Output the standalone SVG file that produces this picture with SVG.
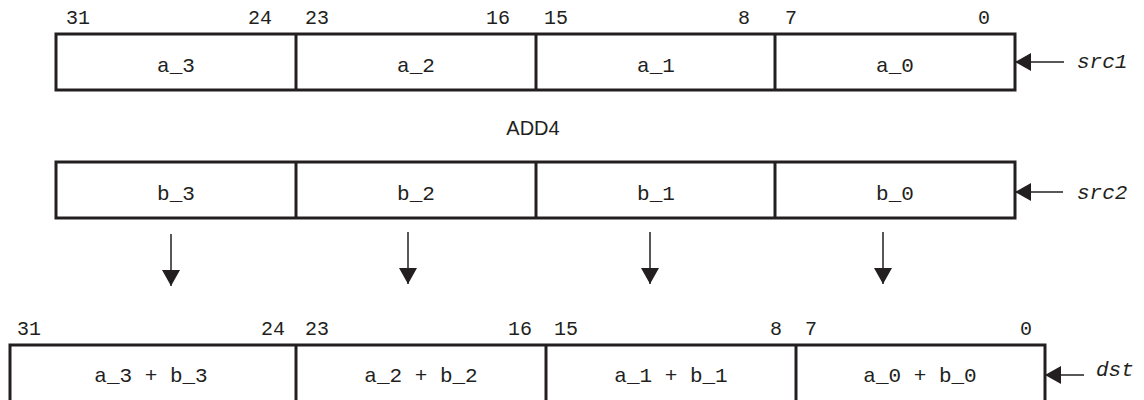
<svg xmlns="http://www.w3.org/2000/svg" width="1144" height="400" viewBox="0 0 1144 400">
<style>
.box{fill:#fff;stroke:#231f20;stroke-width:3}
.div{stroke:#231f20;stroke-width:3}
.bit{font-family:"Liberation Mono",monospace;font-size:20px;fill:#231f20}
.lbl{font-family:"Liberation Mono",monospace;font-size:21px;fill:#231f20;text-anchor:middle}
.reg{font-family:"Liberation Mono",monospace;font-size:21px;font-style:italic;fill:#231f20}
.op{font-family:"Liberation Sans",Arial,sans-serif;font-size:20px;fill:#231f20;text-anchor:middle}
.conn{stroke:#231f20;stroke-width:1.5;fill:none;marker-end:url(#ah)}
.end{text-anchor:end}
</style>
<defs>
<marker id="ah" markerUnits="userSpaceOnUse" markerWidth="16" markerHeight="18" refX="16" refY="9" orient="auto">
<path d="M0,0 L16,9 L0,18 z" fill="#231f20"/>
</marker>
</defs>

<g id="src1">
<rect class="box" x="56" y="34" width="959" height="56"/>
<line class="div" x1="296" y1="34" x2="296" y2="90"/>
<line class="div" x1="536" y1="34" x2="536" y2="90"/>
<line class="div" x1="775" y1="34" x2="775" y2="90"/>
<text class="bit" x="66" y="24">31</text>
<text class="bit end" x="272" y="24">24</text>
<text class="bit" x="305" y="24">23</text>
<text class="bit end" x="510" y="24">16</text>
<text class="bit" x="544" y="24">15</text>
<text class="bit end" x="750" y="24">8</text>
<text class="bit" x="785" y="24">7</text>
<text class="bit end" x="990" y="24">0</text>
<text class="lbl" x="176" y="72">a_3</text>
<text class="lbl" x="416" y="72">a_2</text>
<text class="lbl" x="656" y="72">a_1</text>
<text class="lbl" x="895" y="72">a_0</text>
<text class="reg" x="1077" y="68">src1</text>
</g>

<g id="op">
<text class="op" x="533" y="135">ADD4</text>
</g>

<g id="src2">
<rect class="box" x="56" y="162" width="959" height="56"/>
<line class="div" x1="296" y1="162" x2="296" y2="218"/>
<line class="div" x1="536" y1="162" x2="536" y2="218"/>
<line class="div" x1="775" y1="162" x2="775" y2="218"/>
<text class="lbl" x="176" y="200">b_3</text>
<text class="lbl" x="416" y="200">b_2</text>
<text class="lbl" x="656" y="200">b_1</text>
<text class="lbl" x="895" y="200">b_0</text>
<text class="reg" x="1077" y="199">src2</text>
</g>

<g id="dst">
<rect class="box" x="10" y="345" width="1035" height="60"/>
<line class="div" x1="296" y1="345" x2="296" y2="405"/>
<line class="div" x1="546" y1="345" x2="546" y2="405"/>
<line class="div" x1="796" y1="345" x2="796" y2="405"/>
<text class="bit" x="17" y="335">31</text>
<text class="bit end" x="285" y="335">24</text>
<text class="bit" x="305" y="335">23</text>
<text class="bit end" x="532" y="335">16</text>
<text class="bit" x="554" y="335">15</text>
<text class="bit end" x="782" y="335">8</text>
<text class="bit" x="805" y="335">7</text>
<text class="bit end" x="1032" y="335">0</text>
<text class="lbl" x="151" y="382">a_3 + b_3</text>
<text class="lbl" x="421" y="382">a_2 + b_2</text>
<text class="lbl" x="671" y="382">a_1 + b_1</text>
<text class="lbl" x="920" y="382">a_0 + b_0</text>
<text class="reg" x="1096" y="376">dst</text>
</g>

<g id="connectors">
<line class="conn" x1="1064" y1="62" x2="1015" y2="62"/>
<line class="conn" x1="1063" y1="192" x2="1015" y2="192"/>
<line class="conn" x1="1084" y1="375" x2="1045" y2="375"/>
<line class="conn" x1="171" y1="234" x2="171" y2="286"/>
<line class="conn" x1="408" y1="232" x2="408" y2="284"/>
<line class="conn" x1="650" y1="232" x2="650" y2="284"/>
<line class="conn" x1="883" y1="232" x2="883" y2="284"/>
</g>
</svg>
